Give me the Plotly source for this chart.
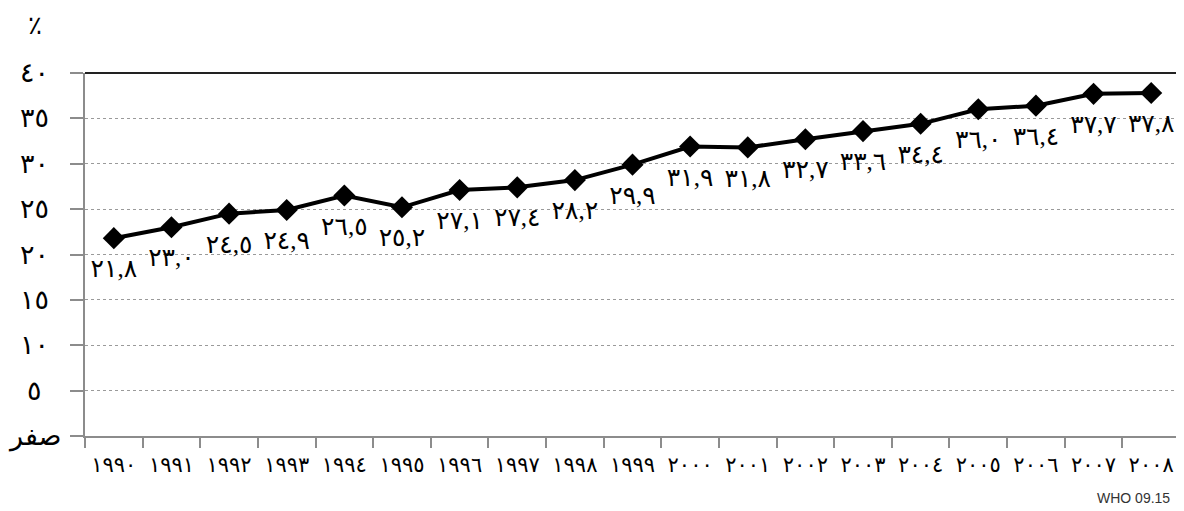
import plotly.graph_objects as go

AR = str.maketrans("0123456789", "٠١٢٣٤٥٦٧٨٩")

years = [str(y) for y in range(1990, 2009)]
values = [21.8, 23.0, 24.5, 24.9, 26.5, 25.2, 27.1, 27.4, 28.2, 29.9,
          31.9, 31.8, 32.7, 33.6, 34.4, 36.0, 36.4, 37.7, 37.8]
year_labels = [y.translate(AR) for y in years]
value_labels = [f"{v:.1f}".replace(".", ",").translate(AR) for v in values]
y_ticks = [0, 5, 10, 15, 20, 25, 30, 35, 40]
y_tick_labels = ["صفر"] + [str(t).translate(AR) for t in y_ticks[1:]]
unit_label = "٪"
source_label = "WHO 09.15"

SERIF = "Times New Roman, Liberation Serif, DejaVu Serif, DejaVu Sans, serif"

fig = go.Figure()
fig.add_trace(go.Scatter(
    x=year_labels, y=values,
    mode="lines+markers",
    line=dict(color="black", width=4),
    marker=dict(symbol="diamond", size=17, color="black"),
    hoverinfo="skip",
    showlegend=False,
))
# value labels: an invisible, larger marker pushes the text a bit further below the point
fig.add_trace(go.Scatter(
    x=year_labels, y=values,
    mode="markers+text",
    marker=dict(size=31, color="rgba(0,0,0,0)"),
    text=value_labels,
    textposition="bottom center",
    textfont=dict(family=SERIF, size=25, color="black"),
    cliponaxis=False,
    hoverinfo="skip",
    showlegend=False,
))

fig.update_xaxes(
    type="category",
    range=[-0.5, len(years) - 0.5],
    autorange=False,
    showgrid=False,
    showline=True, linecolor="#8c8c8c", linewidth=2,
    ticks="outside", tickson="boundaries", ticklen=10, tickcolor="#8c8c8c", tickwidth=2,
    tickfont=dict(family=SERIF, size=21, color="black"),
    tickangle=0,
    ticklabelstandoff=9,
    mirror=False,
    zeroline=False,
    automargin=False,
)
fig.update_yaxes(
    range=[0, 40],
    tickvals=y_ticks,
    showticklabels=False,
    ticks="outside", ticklen=13, tickcolor="#8c8c8c", tickwidth=2,
    showgrid=True, gridcolor="#9a9a9a", griddash="dot", gridwidth=1,
    showline=True, linecolor="#8c8c8c", linewidth=2,
    zeroline=False,
    automargin=False,
)

# top frame line (dark) and right frame line (gray)
fig.add_shape(type="line", xref="paper", yref="paper", x0=0, x1=1, y0=1, y1=1,
              line=dict(color="#222222", width=2))
fig.add_shape(type="line", xref="paper", yref="paper", x0=1, x1=1, y0=0, y1=1,
              line=dict(color="#8c8c8c", width=1.5))

for t, lab in zip(y_ticks, y_tick_labels):
    fig.add_annotation(xref="paper", yref="y", x=-0.046, y=t, text=lab,
                       showarrow=False, xanchor="center", yanchor="middle",
                       font=dict(family=SERIF, size=27, color="black"))

fig.add_annotation(xref="paper", yref="paper", x=-0.046, y=1.13, text=unit_label,
                   showarrow=False, xanchor="center", yanchor="middle",
                   font=dict(family=SERIF, size=26, color="black"))
fig.add_annotation(xref="paper", yref="paper", x=0.993, y=-0.144, text=source_label,
                   showarrow=False, xanchor="right", yanchor="top",
                   font=dict(family="Liberation Sans, Arial, sans-serif", size=14, color="#333333"))

# page body has an 8px margin: shrink the figure so it fits the window exactly
fig.update_layout(
    width=1176, height=503,
    margin=dict(l=77, r=4, t=65, b=75),
    paper_bgcolor="white", plot_bgcolor="white",
)

fig.write_html("out.html")
